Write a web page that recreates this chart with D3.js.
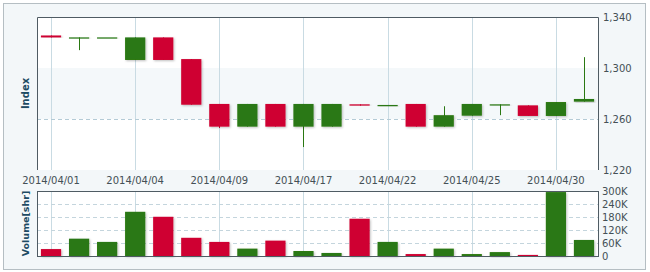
<!DOCTYPE html>
<html>
<head>
<meta charset="utf-8">
<script src="https://cdn.jsdelivr.net/npm/d3@7"></script>
<style>
  body { margin: 0; background: #fff; }
  svg text { font-family: "DejaVu Sans", Verdana, sans-serif; }
</style>
</head>
<body>
<div id="chart"></div>
<script>
// Daily data
const dates = ["2014/04/01","2014/04/02","2014/04/03","2014/04/04","2014/04/07","2014/04/08","2014/04/09",
  "2014/04/10","2014/04/11","2014/04/17","2014/04/18","2014/04/21","2014/04/22","2014/04/23",
  "2014/04/24","2014/04/25","2014/04/28","2014/04/29","2014/04/30","2014/05/02"];
const opens  = [1325.5, 1324, 1324, 1306.3, 1324, 1307, 1271.8, 1254, 1271.8, 1254, 1254, 1271.5, 1270.3, 1271.8, 1254, 1262.6, 1271.5, 1270.7, 1262.4, 1273.6];
const closes = [1324, 1324, 1324, 1324, 1306.3, 1271.2, 1254, 1271.8, 1254, 1271.8, 1271.8, 1270.5, 1271, 1254, 1263, 1271.8, 1271.5, 1262.4, 1273.3, 1275.7];
const highs  = [1325.5, 1324, 1324, 1324, 1324, 1307, 1271.8, 1271.8, 1271.8, 1271.8, 1271.8, 1271.5, 1271, 1271.8, 1270, 1271.8, 1271.5, 1270.7, 1273.3, 1308.5];
const lows   = [1324, 1314, 1324, 1306.3, 1306.3, 1271.2, 1253, 1254, 1254, 1238, 1254, 1270.5, 1270.3, 1254, 1254, 1262.6, 1263, 1262.4, 1262.4, 1273.6];
const volumes = [32000, 80000, 65000, 204000, 181000, 84000, 65000, 34000, 71000, 23000, 14000, 172000, 65000, 9000, 34000, 9000, 18000, 5000, 295000, 74000];
const priceTicks = [1220, 1260, 1300, 1340];
const volumeTicks = [0, 60000, 120000, 180000, 240000, 300000];
const labelDates = dates.filter((d, i) => i % 3 === 0);

const W = 650, H = 272;
const left = 37, right = 598;
const top1 = 17, bottom1 = 170;
const top2 = 191, bottom2 = 256;

const RED = "#cf0630", GREEN = "#2a7812";
const frameFill = "#f3f7f9", darkLine = "#4f5b63", gridCol = "#c9dbe3";

const data = dates.map((d, i) => ({
  date: d, open: opens[i], close: closes[i], high: highs[i], low: lows[i], volume: volumes[i]
}));
const colorOf = d => d.close < d.open ? RED : GREEN;

const svg = d3.select("#chart").append("svg")
  .attr("width", W).attr("height", H);

// soft shadow under the bars
const defs = svg.append("defs");
const f = defs.append("filter").attr("id", "shadow")
  .attr("x", "-20%").attr("y", "-20%").attr("width", "150%").attr("height", "150%");
f.append("feDropShadow").attr("dx", 1).attr("dy", 1).attr("stdDeviation", 1)
  .attr("flood-opacity", 0.25);

// outer frame
svg.append("rect").attr("x", 3.5).attr("y", 3.5).attr("width", 642).attr("height", 266)
  .attr("fill", frameFill).attr("stroke", "#b5bec3");

// scales
const x = d3.scaleBand().domain(dates).range([left, right]).paddingInner(0.28).paddingOuter(0.14);
const y = d3.scaleLinear().domain([1220, 1340]).range([bottom1, top1]);
const yv = d3.scaleLinear().domain([0, 300000]).range([bottom2, top2]);

// ---- price panel ----
svg.append("rect").attr("x", left).attr("y", top1).attr("width", right - left).attr("height", bottom1 - top1)
  .attr("fill", "#fff");
svg.append("rect").attr("x", left).attr("y", y(1300)).attr("width", right - left).attr("height", y(1260) - y(1300))
  .attr("fill", "#f4f8fa");

// vertical grid in both panels
[[top1, bottom1], [top2, bottom2]].forEach(([a, b]) => {
  if (a === top2) {
    svg.append("rect").attr("x", left).attr("y", top2).attr("width", right - left).attr("height", bottom2 - top2)
      .attr("fill", "#fff");
  }
  svg.append("g").selectAll("line").data(labelDates).join("line")
    .attr("x1", d => Math.round(x(d) + x.bandwidth() / 2) + 0.5)
    .attr("x2", d => Math.round(x(d) + x.bandwidth() / 2) + 0.5)
    .attr("y1", a).attr("y2", b)
    .attr("stroke", gridCol);
});

// dashed price grid
svg.append("g").selectAll("line").data([1260]).join("line")
  .attr("x1", left).attr("x2", right)
  .attr("y1", d => Math.round(y(d)) + 0.5).attr("y2", d => Math.round(y(d)) + 0.5)
  .attr("stroke", "#b4cbd6").attr("stroke-dasharray", "4,3");

// candles
const candles = svg.append("g").selectAll("g").data(data).join("g");
candles.append("line")
  .attr("x1", d => Math.round(x(d.date) + x.bandwidth() / 2) + 0.5)
  .attr("x2", d => Math.round(x(d.date) + x.bandwidth() / 2) + 0.5)
  .attr("y1", d => y(d.high)).attr("y2", d => y(d.low))
  .attr("stroke", colorOf);
candles.append("rect")
  .attr("x", d => x(d.date))
  .attr("width", x.bandwidth())
  .attr("y", d => y(Math.max(d.open, d.close)))
  .attr("height", d => Math.max(1.2, Math.abs(y(d.open) - y(d.close))))
  .attr("fill", colorOf)
  .attr("filter", "url(#shadow)");

// price panel border (left, top, right)
svg.append("path")
  .attr("d", `M${left + 0.5},${bottom1}V${top1 + 0.5}H${right + 0.5}V${bottom1}`)
  .attr("fill", "none").attr("stroke", darkLine);

// right price axis labels
svg.append("g").selectAll("text").data(priceTicks).join("text")
  .attr("x", right + 5).attr("y", d => y(d)).attr("dy", "0.35em")
  .attr("font-size", 10).attr("fill", "#445056")
  .text(d3.format(","));

// date labels
svg.append("g").selectAll("text").data(labelDates).join("text")
  .attr("x", d => x(d) + x.bandwidth() / 2).attr("y", 184)
  .attr("text-anchor", "middle").attr("font-size", 10).attr("fill", "#445056")
  .text(d => d);

// ---- volume panel ----
svg.append("g").selectAll("line").data(volumeTicks.slice(1, -1)).join("line")
  .attr("x1", left).attr("x2", right)
  .attr("y1", d => Math.round(yv(d)) + 0.5).attr("y2", d => Math.round(yv(d)) + 0.5)
  .attr("stroke", "#c4d5dd").attr("stroke-dasharray", "4,3");

svg.append("g").selectAll("rect").data(data).join("rect")
  .attr("x", d => x(d.date))
  .attr("width", x.bandwidth())
  .attr("y", d => yv(d.volume))
  .attr("height", d => yv(0) - yv(d.volume))
  .attr("fill", colorOf)
  .attr("filter", "url(#shadow)");

svg.append("rect").attr("x", left + 0.5).attr("y", top2 + 0.5)
  .attr("width", right - left).attr("height", bottom2 - top2)
  .attr("fill", "none").attr("stroke", darkLine);

svg.append("g").selectAll("text").data(volumeTicks).join("text")
  .attr("x", right + 4).attr("y", d => yv(d)).attr("dy", "0.35em")
  .attr("font-size", 10).attr("fill", "#445056")
  .text(d => d === 0 ? "0" : (d / 1000) + "K");

// axis titles
svg.append("text")
  .attr("transform", "translate(29,93.5) rotate(-90)")
  .attr("text-anchor", "middle").attr("font-size", 10).attr("font-weight", "bold")
  .attr("fill", "#1d4b63").text("Index");
svg.append("text")
  .attr("transform", `translate(29,${(top2 + bottom2) / 2}) rotate(-90)`)
  .attr("text-anchor", "middle").attr("font-size", 9.5).attr("font-weight", "bold")
  .attr("fill", "#1d4b63").text("Volume[shr]");
</script>
</body>
</html>
